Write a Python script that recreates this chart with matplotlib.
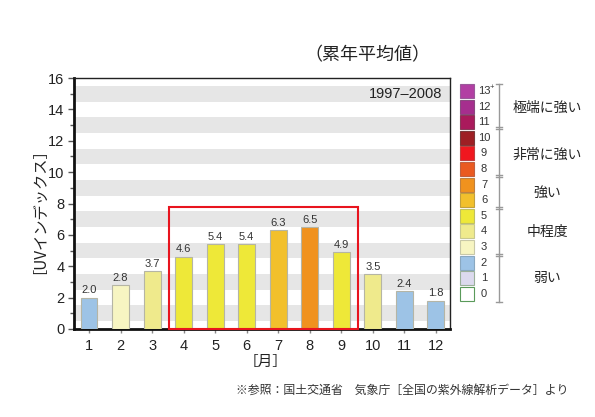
import matplotlib
matplotlib.use('Agg')
import matplotlib.pyplot as plt
import matplotlib.patches as mpatches

plt.rcParams['font.family'] = ['Liberation Sans', 'Noto Sans CJK JP', 'DejaVu Sans']
JP = ['Noto Sans CJK JP', 'DejaVu Sans']

# data
months = list(range(1, 13))
uv = [2.0, 2.8, 3.7, 4.6, 5.4, 5.4, 6.3, 6.5, 4.9, 3.5, 2.4, 1.8]

# legend levels (top to bottom) and their colours
levels = ["13+", "12", "11", "10", "9", "8", "7", "6", "5", "4", "3", "2", "1", "0"]
level_colors = ["#B23FA3", "#A62E8E", "#AA1A5C", "#9E1F24", "#F0171F", "#EA5A21",
                "#F0921E", "#F2C02C", "#EEE838", "#EFEA8C", "#F7F5C2", "#9DC3E6",
                "#DCDAEE", "#FFFFFF"]
level_edges = ["#9A5A9A", "#8A4A80", "#8A3A5A", "#7A3A3A", "#C04040", "#C06040",
               "#C08040", "#C0A040", "#C0C060", "#C8C890", "#C8C8A8", "#8AA8C0",
               "#9AB09A", "#5A9A5A"]
categories = ["極端に強い", "非常に強い", "強い", "中程度", "弱い"]

def bar_color(v):
    idx = 13 - min(int(v + 0.5), 13)
    return level_colors[idx]

fig = plt.figure(figsize=(5.95, 4.17), dpi=100)
ax = fig.add_axes([74/595, 88/417, 376/595, 251/417])

# gray stripes
for lo in range(0, 16, 2):
    ax.axhspan(lo + 0.5, lo + 1.5, color="#E6E6E6", lw=0, zorder=0)

bars = ax.bar(months, uv, width=0.53, color=[bar_color(v) for v in uv],
              edgecolor="#B5B5A5", linewidth=0.8, zorder=3)
for m, v in zip(months, uv):
    ax.text(m, v + 0.15, f"{v:.1f}", ha='center', va='bottom', fontsize=8,
            color="#333333", zorder=4)

# red box around Apr-Sep
ax.add_patch(mpatches.Rectangle((3.52, 0), 6.0, 7.75, fill=False,
                                edgecolor="#E8141E", lw=1.5, zorder=5,
                                clip_on=False))

ax.set_xlim(0.52, 12.45)
ax.set_ylim(0, 16)
ax.set_xticks(months)
ax.set_yticks(range(0, 17, 2))
ax.set_yticks(range(1, 16, 2), minor=True)
ax.tick_params(axis='y', which='major', length=4, width=1, color="#555555",
               labelsize=10.5, pad=3, labelcolor="#222222")
ax.tick_params(axis='y', which='minor', length=3, width=1, color="#555555")
ax.tick_params(axis='x', length=3, width=1, color="#888888", labelsize=10.5,
               pad=4, labelcolor="#222222")
for side in ['left', 'bottom']:
    ax.spines[side].set_linewidth(2)
    ax.spines[side].set_color("#111111")
for side in ['top', 'right']:
    ax.spines[side].set_linewidth(1)
    ax.spines[side].set_color("#222222")

ax.set_ylabel("［UVインデックス］", family=JP, fontsize=11, labelpad=6, color="#222222")
ax.text(12.2, 15.0, "1997–2008", ha='right', va='center', fontsize=10.5,
        color="#222222")

# overlay in pixel coordinates for titles, notes and legend
ov = fig.add_axes([0, 0, 1, 1], zorder=10)
ov.set_xlim(0, 595)
ov.set_ylim(417, 0)
ov.axis('off')

ov.text(367, 55, "（累年平均値）", family=JP, fontsize=13, ha='center', va='center',
        color="#222222")
ov.text(266, 362, "［月］", family=JP, fontsize=10.5, ha='center', va='center',
        color="#222222")
ov.text(568, 390, "※参照：国土交通省　気象庁［全国の紫外線解析データ］より", family=JP,
        fontsize=8.6, ha='right', va='center', color="#333333")

# legend squares
y0, step = 91, 15.6
for i, (lab, c, e) in enumerate(zip(levels, level_colors, level_edges)):
    y = y0 + i * step
    ov.add_patch(mpatches.Rectangle((460, y - 7), 14, 14, facecolor=c,
                                    edgecolor=e, lw=0.8))
    if lab == "13+":
        ov.text(478, y, "13", fontsize=8, ha='left', va='center', color="#333333")
        ov.text(490, y - 4, "+", fontsize=5.5, ha='left', va='center', color="#333333")
    else:
        ov.text(484, y, lab, fontsize=8, ha='center', va='center', color="#333333")

# bracket
bx = 499
ov.plot([bx, bx], [84, 302], color="#999999", lw=1)
for yb in [84, 302]:
    ov.plot([bx - 3, bx + 3], [yb, yb], color="#999999", lw=1)
for yb in [128, 176, 208, 255]:
    ov.plot([bx - 3, bx + 3], [yb - 1, yb - 1], color="#999999", lw=1)
    ov.plot([bx - 3, bx + 3], [yb + 1, yb + 1], color="#999999", lw=1)

for cat, yc in zip(categories, [108, 155, 193, 232, 278]):
    ov.text(547, yc, cat, family=JP, fontsize=10, ha='center', va='center',
            color="#222222")

fig.savefig("out.png", dpi=100)
